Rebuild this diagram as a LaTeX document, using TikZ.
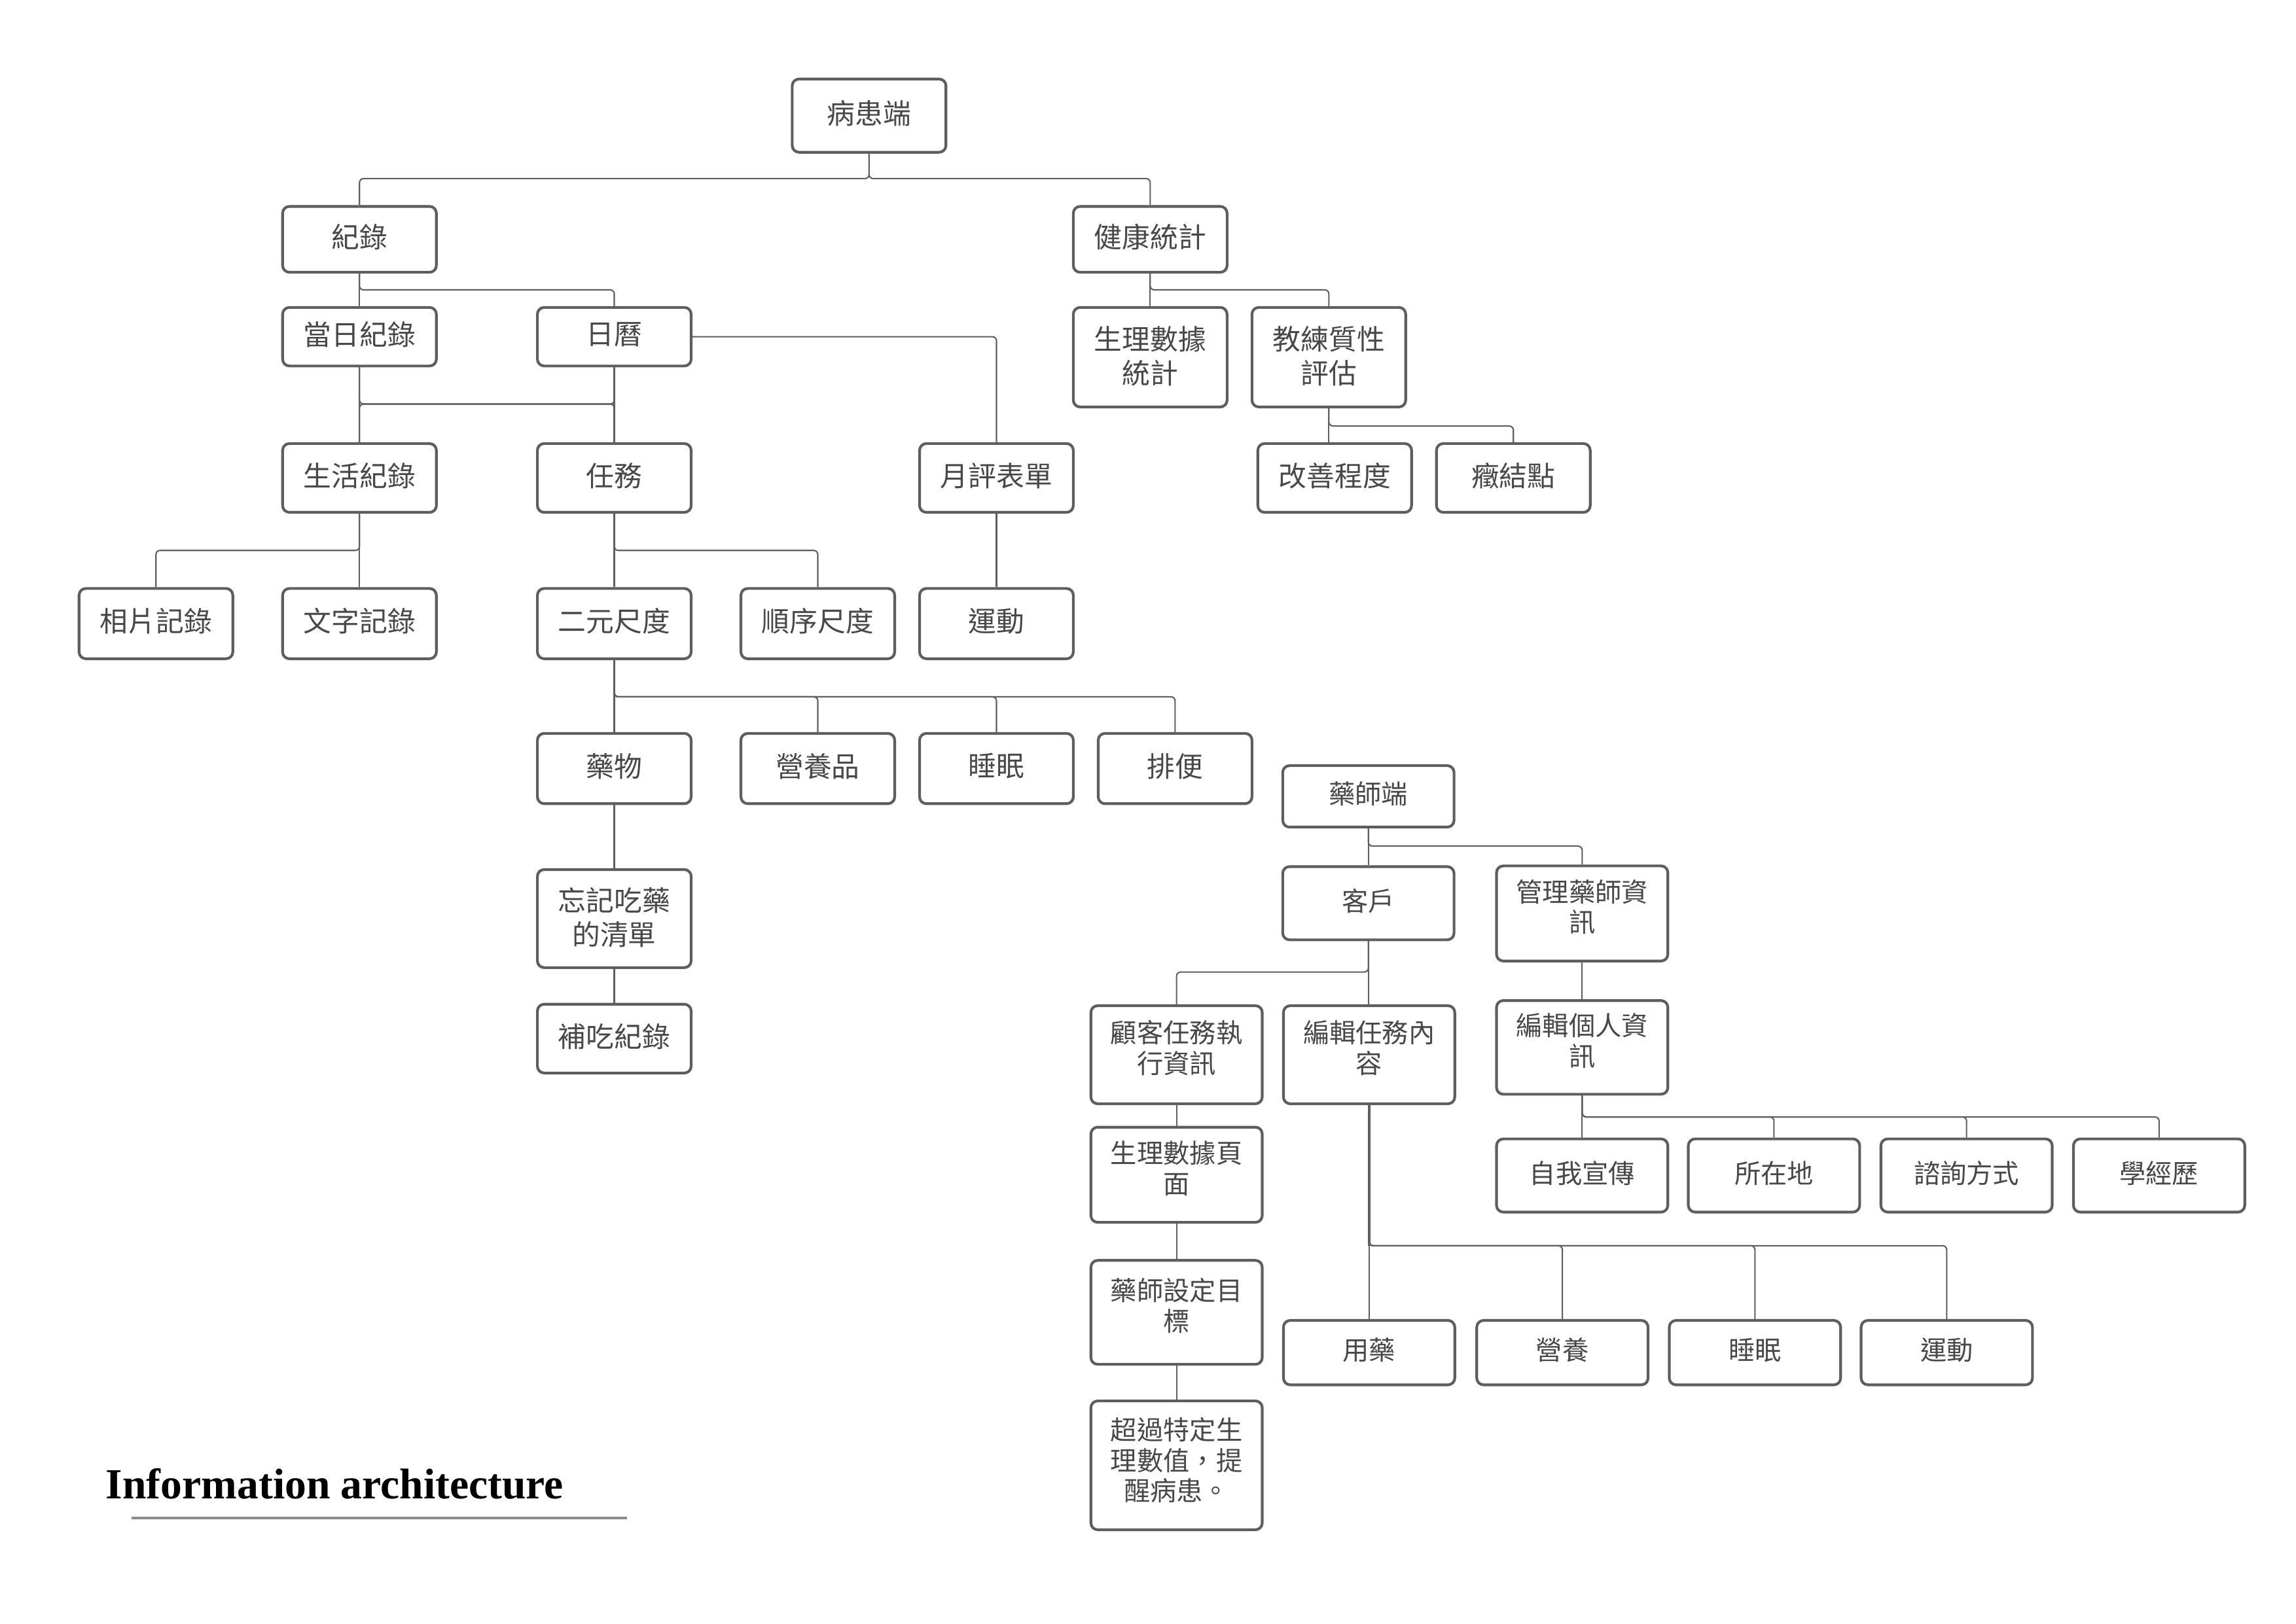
\documentclass[tikz,border=0pt]{standalone}
\usepackage{fontspec}
\setmainfont{Liberation Serif}
\newfontfamily\cjk{Noto Sans CJK TC}
\definecolor{boxc}{HTML}{5E5E5E}
\definecolor{txtc}{HTML}{484848}
\definecolor{ulc}{HTML}{8C8C8C}
\tikzset{
  box/.style={draw=boxc, line width=1pt, rounded corners=2.5pt, fill=white, align=center, inner sep=0pt, text=txtc, text depth=2.6pt},
  pbox/.style={box, font=\cjk\fontsize{10.3}{12.4}\selectfont},
  hbox/.style={box, font=\cjk\fontsize{9.7}{11.3}\selectfont},
  ml/.style={text depth=5.6pt},
  pml/.style={text depth=1.6pt},
  sz/.style 2 args={minimum width=#1*0.018941cm, minimum height=#2*0.018941cm},
  conn/.style={draw=boxc, line width=0.5pt, rounded corners=1.5pt},
  thickconn/.style={draw=boxc, line width=1pt, rounded corners=1.5pt},
}
\begin{document}
\begin{tikzpicture}[x=0.018941cm, y=-0.018941cm]
\path[use as bounding box, fill=white] (0,0) rectangle (1568,1109);

% ---------------- patient side ----------------
\node[pbox, sz={105}{50}] (p0) at (593.5,79) {病患端};
\node[pbox, sz={105}{45}] (jl) at (245.5,163.5) {紀錄};
\node[pbox, sz={105}{45}] (jk) at (785.5,163.5) {健康統計};
\node[pbox, sz={105}{40}] (dr) at (245.5,230) {當日紀錄};
\node[pbox, sz={105}{40}] (cal) at (419.5,230) {日曆};
\node[pbox, pml, sz={105}{68}] (sl) at (785.5,244) {生理數據\\統計};
\node[pbox, pml, sz={105}{68}] (coach) at (907.5,244) {教練質性\\評估};
\node[pbox, sz={105}{47}] (life) at (245.5,326.5) {生活紀錄};
\node[pbox, sz={105}{47}] (task) at (419.5,326.5) {任務};
\node[pbox, sz={105}{47}] (month) at (680.5,326.5) {月評表單};
\node[pbox, sz={105}{47}] (impr) at (911.5,326.5) {改善程度};
\node[pbox, sz={105}{47}] (crux) at (1033.5,326.5) {癥結點};
\node[pbox, sz={105}{48}] (photo) at (106.5,426) {相片記錄};
\node[pbox, sz={105}{48}] (txt) at (245.5,426) {文字記錄};
\node[pbox, sz={105}{48}] (bin) at (419.5,426) {二元尺度};
\node[pbox, sz={105}{48}] (ord) at (558.5,426) {順序尺度};
\node[pbox, sz={105}{48}] (ex) at (680.5,426) {運動};
\node[pbox, sz={105}{48}] (med) at (419.5,525) {藥物};
\node[pbox, sz={105}{48}] (nut) at (558.5,525) {營養品};
\node[pbox, sz={105}{48}] (slp) at (680.5,525) {睡眠};
\node[pbox, sz={105}{48}] (bow) at (802.5,525) {排便};
\node[pbox, pml, sz={105}{67}] (forg) at (419.5,627.5) {忘記吃藥\\的清單};
\node[pbox, sz={105}{47}] (make) at (419.5,709.5) {補吃紀錄};

% ---------------- pharmacist side ----------------
\node[hbox, sz={117}{42}] (ph0) at (934.5,544) {藥師端};
\node[hbox, sz={117}{50}] (cli) at (934.5,617) {客戶};
\node[hbox, ml, sz={117}{65}] (mgr) at (1080.5,624) {管理藥師資\\訊};
\node[hbox, ml, sz={117}{67}] (cus) at (803.5,720.5) {顧客任務執\\行資訊};
\node[hbox, ml, sz={117}{67}] (edt) at (935,720.5) {編輯任務內\\容};
\node[hbox, ml, sz={117}{64}] (edp) at (1080.5,715.5) {編輯個人資\\訊};
\node[hbox, ml, sz={117}{65}] (phy) at (803.5,802.5) {生理數據頁\\面};
\node[hbox, sz={117}{50}] (self) at (1080.5,803) {自我宣傳};
\node[hbox, sz={117}{50}] (loc) at (1211.5,803) {所在地};
\node[hbox, sz={117}{50}] (con) at (1343,803) {諮詢方式};
\node[hbox, sz={117}{50}] (edu) at (1474.5,803) {學經歷};
\node[hbox, ml, sz={117}{71}] (goal) at (803.5,896.5) {藥師設定目\\標};
\node[hbox, sz={117}{44}] (umed) at (935,924) {用藥};
\node[hbox, sz={117}{44}] (unut) at (1067,924) {營養};
\node[hbox, sz={117}{44}] (uslp) at (1198.5,924) {睡眠};
\node[hbox, sz={117}{44}] (uex) at (1329.5,924) {運動};
\node[hbox, sz={117}{88}, text depth=4.6pt] (alert) at (803.5,1001) {超過特定生\\理數值，提\\醒病患。};

% ---------------- bus lines ----------------
\coordinate (b1) at (0,122);
\coordinate (b2) at (0,198);
\coordinate (b3) at (0,276);
\coordinate (b4) at (0,291);
\coordinate (b5) at (0,376);
\coordinate (b6) at (0,476);
\coordinate (b7) at (0,578);
\coordinate (b8) at (0,664);
\coordinate (b9) at (0,763);
\coordinate (b10) at (0,851);

% ---------------- connectors (patient) ----------------
\draw[conn] (p0.south) |- (jl.north |- b1) -- (jl.north);
\draw[conn] (p0.south) |- (jk.north |- b1) -- (jk.north);
\draw[conn] (jl.south) -- (dr.north);
\draw[conn] (jl.south) |- (cal.north |- b2) -- (cal.north);
\draw[conn] (jk.south) -- (sl.north);
\draw[conn] (jk.south) |- (coach.north |- b2) -- (coach.north);
\draw[conn] (dr.south) -- (life.north);
\draw[conn] (cal.south) -- (task.north);
\draw[conn] (dr.south) |- (task.north |- b3) -- (task.north);
\draw[conn] (cal.south) |- (life.north |- b3) -- (life.north);
\draw[conn] (cal.east) -| (month.north);
\draw[conn] (coach.south) -- (coach.south |- impr.north);
\draw[conn] (coach.south) |- (crux.north |- b4) -- (crux.north);
\draw[conn] (life.south) -- (txt.north);
\draw[conn] (life.south) |- (photo.north |- b5) -- (photo.north);
\draw[conn] (task.south) -- (bin.north);
\draw[conn] (task.south) |- (ord.north |- b5) -- (ord.north);
\draw[conn] (month.south) -- (ex.north);
\draw[conn] (bin.south) -- (med.north);
\foreach \n in {nut,slp,bow}
  \draw[conn] (bin.south) |- (\n.north |- b6) -- (\n.north);
\draw[conn] (med.south) -- (forg.north);
\draw[conn] (forg.south) -- (make.north);

% ---------------- connectors (pharmacist) ----------------
\draw[conn] (ph0.south) -- (cli.north);
\draw[conn] (ph0.south) |- (mgr.north |- b7) -- (mgr.north);
\draw[conn] (cli.south) -- (cli.south |- edt.north);
\draw[conn] (cli.south) |- (cus.north |- b8) -- (cus.north);
\draw[conn] (mgr.south) -- (edp.north);
\draw[conn] (cus.south) -- (phy.north);
\draw[conn] (phy.south) -- (goal.north);
\draw[conn] (goal.south) -- (alert.north);
\draw[conn] (edp.south) -- (self.north);
\foreach \n in {loc,con,edu}
  \draw[conn] (edp.south) |- (\n.north |- b9) -- (\n.north);
\draw[thickconn] (edt.south) -- (edt.south |- b10);
\draw[conn] (edt.south |- b10) -- (umed.north);
\foreach \n in {unut,uslp,uex}
  \draw[conn] (edt.south) |- (\n.north |- b10) -- (\n.north);

% ---------------- title ----------------
\node[anchor=base west, inner sep=0pt, font=\bfseries\fontsize{15.8}{18}\selectfont] (title) at (72,1024) {Information architecture};
\draw[ulc, line width=1pt] (90,1037) -- (428,1037);
\end{tikzpicture}
\end{document}
